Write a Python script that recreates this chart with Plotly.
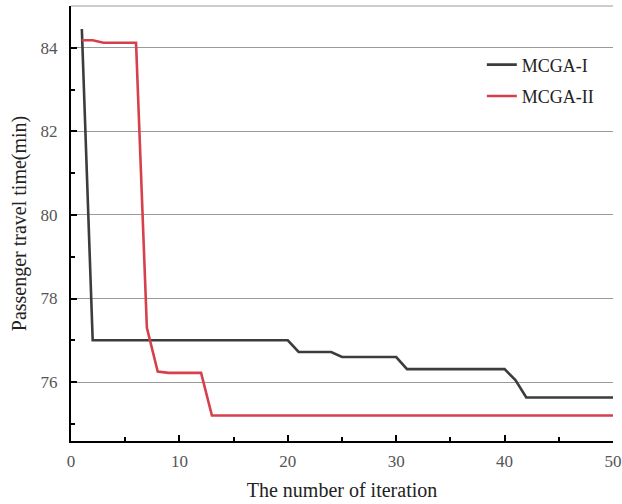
import plotly.graph_objects as go

iter_1 = [1, 2, 20, 21, 24, 25, 30, 31, 40, 41, 42, 50]
mcga_1 = [84.45, 77.0, 77.0, 76.72, 76.72, 76.6, 76.6, 76.31, 76.31, 76.05, 75.63, 75.63]

iter_2 = [1, 2, 3, 6, 7, 8, 9, 12, 13, 50]
mcga_2 = [84.18, 84.18, 84.12, 84.12, 77.3, 76.25, 76.22, 76.22, 75.2, 75.2]

font_family = "Liberation Serif, Times New Roman, serif"

fig = go.Figure()
fig.add_trace(go.Scatter(x=iter_1, y=mcga_1, mode="lines", name="MCGA-I", legendgroup="a",
                         line=dict(color="#3c3c3c", width=2.6)))
fig.add_trace(go.Scatter(x=iter_2, y=mcga_2, mode="lines", name="MCGA-II", legendgroup="b",
                         line=dict(color="#d6404c", width=2.6)))

fig.update_layout(
    width=622, height=504,
    margin=dict(l=71, r=9, t=6, b=63),
    paper_bgcolor="white", plot_bgcolor="white",
    font=dict(family=font_family, color="#333333"),
    showlegend=True,
    legend=dict(x=0.758, y=0.907, xanchor="left", yanchor="top",
                font=dict(size=18, color="#222222", family=font_family),
                bgcolor="rgba(0,0,0,0)", tracegroupgap=5, itemwidth=30),
    xaxis=dict(range=[0, 50], tickvals=[0, 10, 20, 30, 40, 50], automargin=False,
               ticks="inside", ticklen=6, tickwidth=1.5, tickcolor="black",
               minor=dict(ticks="inside", ticklen=4, tickwidth=1.5, tickcolor="black", dtick=5, tick0=0),
               showline=True, linecolor="black", linewidth=2, showgrid=False, zeroline=False,
               tickfont=dict(size=17, color="#555555"), ticklabelstandoff=4,
               title=dict(text="The number of iteration", font=dict(size=20, color="#222222"), standoff=13)),
    yaxis=dict(range=[74.59, 85.0], tickvals=[76, 78, 80, 82, 84], automargin=False,
               ticks="inside", ticklen=6, tickwidth=1.5, tickcolor="black",
               minor=dict(ticks="inside", ticklen=4, tickwidth=1.5, tickcolor="black", dtick=1, tick0=75, showgrid=False),
               showline=True, linecolor="black", linewidth=2, showgrid=True, gridcolor="#9a9a9a", gridwidth=1,
               zeroline=False,
               tickfont=dict(size=17, color="#555555"), ticklabelstandoff=8,
               title=dict(text="Passenger travel time(min)", font=dict(size=20, color="#222222"), standoff=9)),
)

fig.add_shape(type="line", xref="paper", yref="paper", x0=0, x1=1, y0=1, y1=1,
              line=dict(color="#9a9a9a", width=1))

fig.write_html("out.html", config={"displayModeBar": False},
               post_script="document.body.style.margin='0';")
